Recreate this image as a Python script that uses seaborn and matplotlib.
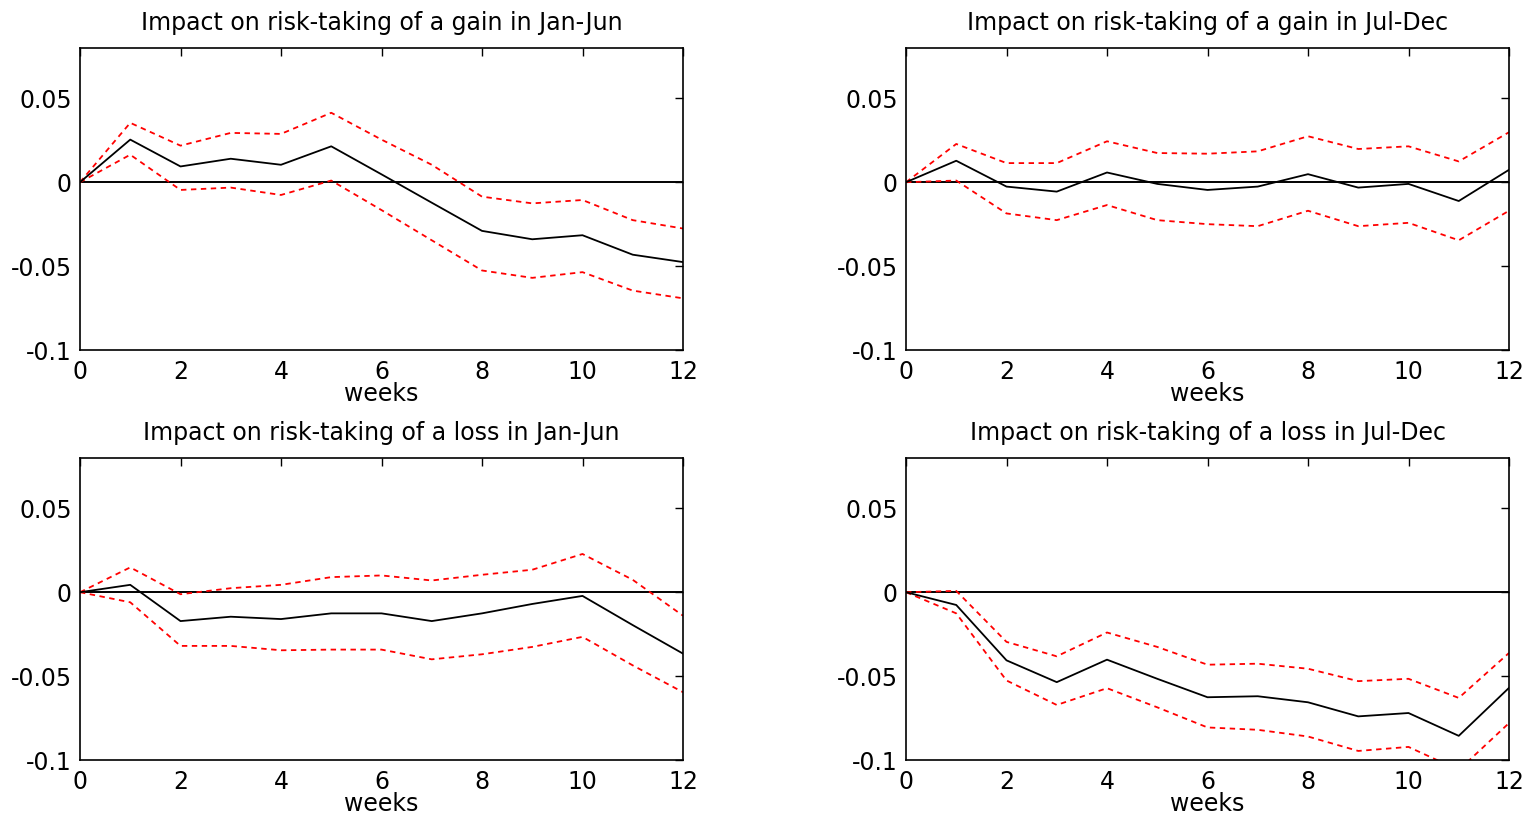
import numpy as np
import pandas as pd
import matplotlib
matplotlib.use("Agg")
import matplotlib.pyplot as plt
import seaborn as sns

weeks = list(range(13))

titles = [
    "Impact on risk-taking of a gain in Jan-Jun",
    "Impact on risk-taking of a gain in Jul-Dec",
    "Impact on risk-taking of a loss in Jan-Jun",
    "Impact on risk-taking of a loss in Jul-Dec",
]

gain_janjun_irf = [0, 0.0254, 0.0094, 0.0140, 0.0104, 0.0214, 0.0047, -0.0122, -0.0290, -0.0340, -0.0316, -0.0432, -0.0476]
gain_janjun_up = [0, 0.0354, 0.0218, 0.0294, 0.0288, 0.0414, 0.0254, 0.0104, -0.0086, -0.0126, -0.0106, -0.0226, -0.0276]
gain_janjun_lo = [0, 0.0164, -0.0046, -0.0032, -0.0076, 0.0010, -0.0166, -0.0346, -0.0526, -0.0570, -0.0536, -0.0646, -0.0692]

gain_juldec_irf = [0, 0.0128, -0.0026, -0.0056, 0.0058, -0.0010, -0.0046, -0.0026, 0.0048, -0.0032, -0.0010, -0.0112, 0.0074]
gain_juldec_up = [0, 0.0228, 0.0114, 0.0114, 0.0244, 0.0174, 0.0170, 0.0184, 0.0274, 0.0198, 0.0214, 0.0124, 0.0298]
gain_juldec_lo = [0, 0.0010, -0.0186, -0.0226, -0.0136, -0.0226, -0.0250, -0.0262, -0.0170, -0.0262, -0.0242, -0.0346, -0.0170]

loss_janjun_irf = [0, 0.0044, -0.0172, -0.0146, -0.0160, -0.0126, -0.0126, -0.0172, -0.0126, -0.0070, -0.0022, -0.0196, -0.0366]
loss_janjun_up = [0, 0.0148, -0.0012, 0.0024, 0.0044, 0.0090, 0.0100, 0.0070, 0.0104, 0.0134, 0.0228, 0.0074, -0.0140]
loss_janjun_lo = [0, -0.0060, -0.0320, -0.0320, -0.0346, -0.0342, -0.0342, -0.0400, -0.0370, -0.0326, -0.0266, -0.0436, -0.0596]

loss_juldec_irf = [0, -0.0076, -0.0406, -0.0536, -0.0402, -0.0516, -0.0626, -0.0620, -0.0656, -0.0740, -0.0720, -0.0856, -0.0570]
loss_juldec_up = [0, 0.0008, -0.0296, -0.0382, -0.0240, -0.0326, -0.0432, -0.0426, -0.0456, -0.0530, -0.0516, -0.0630, -0.0362]
loss_juldec_lo = [0, -0.0126, -0.0526, -0.0672, -0.0572, -0.0686, -0.0806, -0.0820, -0.0860, -0.0946, -0.0922, -0.1060, -0.0780]

yticks = [-0.1, -0.05, 0, 0.05]
ytick_labels = ["-0.1", "-0.05", "0", "0.05"]
xticks = [0, 2, 4, 6, 8, 10, 12]

panels = [
    (gain_janjun_irf, gain_janjun_up, gain_janjun_lo),
    (gain_juldec_irf, gain_juldec_up, gain_juldec_lo),
    (loss_janjun_irf, loss_janjun_up, loss_janjun_lo),
    (loss_juldec_irf, loss_juldec_up, loss_juldec_lo),
]

sns.set_style("white")
plt.rcParams["font.family"] = ["DejaVu Sans"]
plt.rcParams["text.color"] = "black"
plt.rcParams["axes.labelcolor"] = "black"

FS = 17
fig = plt.figure(figsize=(15.24, 8.27), dpi=100)
lefts = [80 / 1524, 906 / 1524]
bottoms = [1 - 350 / 827, 1 - 760 / 827]
w = 603 / 1524
h = 302 / 827

for i, (irf, up, lo) in enumerate(panels):
    ax = fig.add_axes([lefts[i % 2], bottoms[i // 2], w, h])
    df = pd.DataFrame({"week": weeks * 3,
                       "value": irf + up + lo,
                       "series": ["irf"] * 13 + ["up"] * 13 + ["lo"] * 13})
    ax.axhline(0, color="black", lw=1.4, zorder=1)
    sns.lineplot(data=df[df.series == "irf"], x="week", y="value", ax=ax,
                 color="black", lw=1.3, zorder=3)
    for s in ["up", "lo"]:
        sns.lineplot(data=df[df.series == s], x="week", y="value", ax=ax,
                     color="red", lw=1.3, linestyle=(0, (3, 2.5)), zorder=2)
    ax.set_xlim(0, 12)
    ax.set_ylim(-0.1, 0.08)
    ax.set_xticks(xticks)
    ax.set_xticklabels([str(x) for x in xticks])
    ax.set_yticks(yticks)
    ax.set_yticklabels(ytick_labels)
    ax.tick_params(direction="in", length=6, width=1, top=True, right=True,
                   labelsize=FS, colors="black")
    ax.tick_params(axis="x", pad=7)
    ax.tick_params(axis="y", pad=6)
    for sp in ax.spines.values():
        sp.set_color("black")
        sp.set_linewidth(1.2)
        sp.set_visible(True)
    ax.set_xlabel("weeks", fontsize=FS, labelpad=-1, color="black")
    ax.set_ylabel("")
    ax.set_title(titles[i], fontsize=FS, pad=13, color="black")

fig.savefig("out.png", dpi=100)
